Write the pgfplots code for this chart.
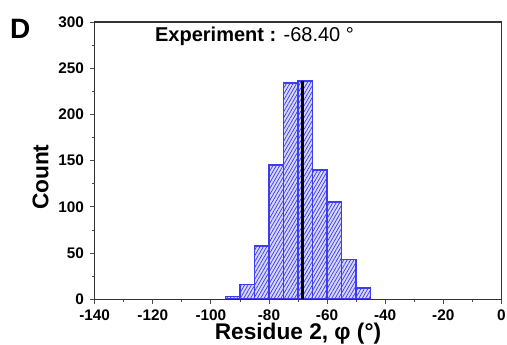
\documentclass[border=0pt]{standalone}
\usepackage{pgfplots}
\pgfplotsset{compat=1.18}
\usepackage{fontspec}
\setmainfont{Liberation Sans}
\usetikzlibrary{patterns.meta}
\definecolor{barblue}{RGB}{60,60,240}
\definecolor{barfill}{RGB}{215,215,250}
\begin{document}
\begin{tikzpicture}
\useasboundingbox (0,0) rectangle (380.25pt,258.75pt);
\begin{axis}[
  at={(71pt,34.3pt)}, anchor=south west,
  scale only axis, width=305pt, height=208pt,
  xmin=-140, xmax=0, ymin=0, ymax=300,
  axis lines=box,
  xtick={-140,-120,...,0}, ytick={0,50,...,300},
  minor xtick={-130,-110,...,-10}, minor ytick={25,75,...,275},
  xtick pos=bottom, ytick pos=left,
  axis line style={black!80, line width=1pt},
  tick align=outside, tick style={black!70, line width=0.6pt},
  major tick length=3.5pt, minor tick length=2pt,
  /pgf/number format/assume math mode=true,
  ticklabel style={font=\fontsize{11.5}{12}\selectfont\bfseries},
  xticklabel style={yshift=-1pt},
  yticklabel style={xshift=-1pt},
  xlabel={Residue 2, φ (°)}, ylabel={Count},
  label style={font=\fontsize{17}{19}\selectfont\bfseries},
  xlabel style={at={(axis description cs:0.5,-0.125)}, anchor=center},
  ylabel style={at={(axis description cs:-0.133,0.44)}, anchor=center, rotate=0},
  clip=false,
]
\addplot[ybar interval, draw=barblue, line width=1.3pt, fill=barfill,
  postaction={pattern={Lines[angle=60,distance=2.2pt,line width=0.55pt]}, pattern color=barblue}]
coordinates {(-95,3) (-90,16) (-85,58) (-80,145) (-75,234) (-70,236) (-65,140) (-60,105) (-55,43) (-50,12) (-45,0)};
\addplot[black, line width=2.6pt] coordinates {(-68.4,0) (-68.4,236)};
\draw[black!80, line width=1pt] (rel axis cs:0,0) rectangle (rel axis cs:1,1);
\node[anchor=center, font=\fontsize{21}{22}\selectfont\bfseries] at (axis description cs:-0.183,0.976) {D};
\node[anchor=west, font=\fontsize{15}{16}\selectfont, inner sep=0pt] at (axis description cs:0.148,0.948) {\textbf{Experiment :} -68.40 °};
\end{axis}
\end{tikzpicture}
\end{document}
